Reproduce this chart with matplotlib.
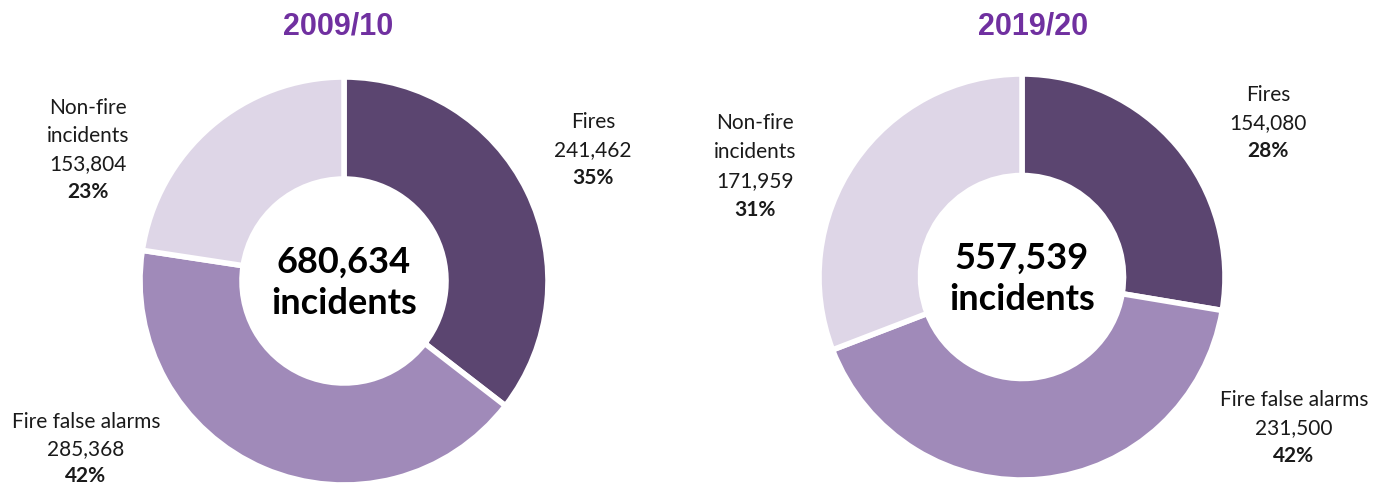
import matplotlib
matplotlib.use('Agg')
import matplotlib.pyplot as plt

W, H = 1391, 486

# data
categories = ['Fires', 'Fire false alarms', 'Non-fire incidents']
years = ['2009/10', '2019/20']
values_0910 = [241462, 285368, 153804]
values_1920 = [154080, 231500, 171959]
totals = [680634, 557539]
pcts_0910 = ['35%', '42%', '23%']
pcts_1920 = ['28%', '42%', '31%']

colors = ['#5B4570', '#A08AB9', '#DED6E7']
title_color = '#7030A0'
text_font = ['Lato', 'DejaVu Sans']


def Y(y):
    return H - y


def label(ax, x, y, lines, pct, step=28):
    for i, line in enumerate(lines):
        ax.text(x, Y(y + i * step), line, ha='center', va='center',
                fontsize=15, color='#1a1a1a', family=text_font)
    ax.text(x, Y(y + len(lines) * step), pct, ha='center', va='center',
            fontsize=15, fontweight='bold', color='#1a1a1a', family=text_font)


fig = plt.figure(figsize=(W / 100, H / 100), dpi=100)
ax = fig.add_axes([0, 0, 1, 1])

donuts = [
    (values_0910, (344, 281), 204, (338, 27)),
    (values_1920, (1022, 277), 203, (1033, 27)),
]
for (vals, (cx, cy), r, (tx, ty)), year, total in zip(donuts, years, totals):
    ax.pie(vals, colors=colors, startangle=90, counterclock=False,
           center=(cx, Y(cy)), radius=r,
           wedgeprops=dict(width=r * 0.5, edgecolor='white', linewidth=4))
    ax.text(cx, Y(cy - 19), f'{total:,}', ha='center', va='center',
            fontsize=26, fontweight='bold', color='black', family=text_font)
    ax.text(cx, Y(cy + 22), 'incidents', ha='center', va='center',
            fontsize=26, fontweight='bold', color='black', family=text_font)
    ax.text(tx, Y(ty), year, ha='center', va='center', fontsize=22,
            fontweight='bold', color=title_color, family='Liberation Sans')

# labels 2009/10
label(ax, 593, 122, ['Fires', f'{values_0910[0]:,}'], pcts_0910[0])
label(ax, 86, 422, ['Fire false alarms', f'{values_0910[1]:,}'], pcts_0910[1], step=27)
label(ax, 88, 108, ['Non-fire', 'incidents', f'{values_0910[2]:,}'], pcts_0910[2])

# labels 2019/20
label(ax, 1268, 95, ['Fires', f'{values_1920[0]:,}'], pcts_1920[0])
label(ax, 1294, 400, ['Fire false alarms', f'{values_1920[1]:,}'], pcts_1920[1])
label(ax, 755, 123, ['Non-fire', 'incidents', f'{values_1920[2]:,}'], pcts_1920[2], step=29)

ax.set_xlim(0, W)
ax.set_ylim(0, H)
ax.set_aspect('auto')
ax.axis('off')

plt.savefig('out.png', dpi=100, facecolor='white')
